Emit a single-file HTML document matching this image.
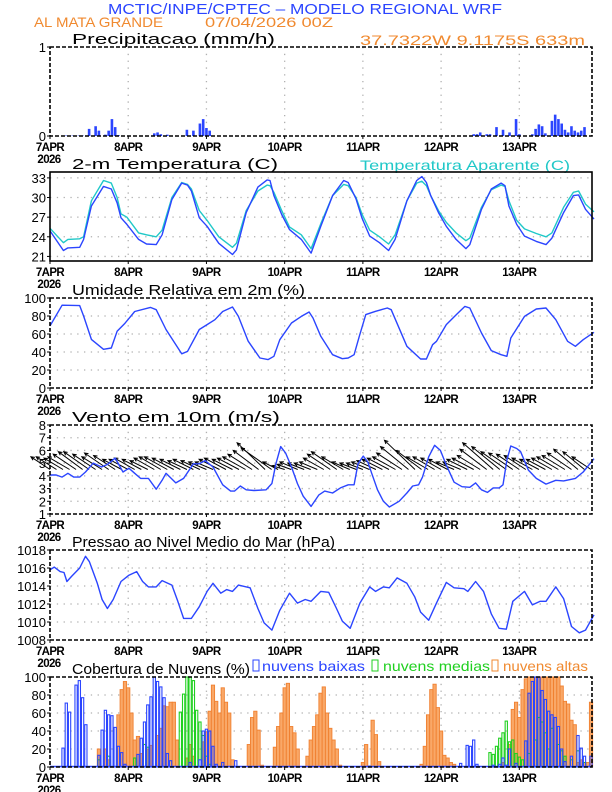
<!DOCTYPE html>
<html><head><meta charset="utf-8"><title>Meteograma WRF</title>
<style>
html,body{margin:0;padding:0;background:#fff;}
svg{display:block;font-family:"Liberation Sans",sans-serif;}
</style></head>
<body>
<svg id="chart" width="612" height="792" viewBox="0 0 612 792" xmlns="http://www.w3.org/2000/svg">
<text x="108" y="14" font-size="15" fill="#2b45ff" textLength="394" lengthAdjust="spacingAndGlyphs">MCTIC/INPE/CPTEC – MODELO REGIONAL WRF</text>
<text x="34" y="27" font-size="14" fill="#f08a30" textLength="129" lengthAdjust="spacingAndGlyphs">AL MATA GRANDE</text>
<text x="205" y="27" font-size="14" fill="#f08a30" textLength="128" lengthAdjust="spacingAndGlyphs">07/04/2026 00Z</text>
<text x="360" y="45" font-size="14" fill="#f08a30" textLength="225" lengthAdjust="spacingAndGlyphs">37.7322W 9.1175S 633m</text>
<text x="360" y="170" font-size="14" fill="#20c8c8" textLength="210" lengthAdjust="spacingAndGlyphs">Temperatura Aparente (C)</text>
<g>
<rect x="253" y="660" width="6" height="11" fill="none" stroke="#2b45ff"/>
<text x="262" y="671" font-size="14" fill="#2b45ff" textLength="103" lengthAdjust="spacingAndGlyphs">nuvens baixas</text>
<rect x="372" y="660" width="6" height="11" fill="none" stroke="#20d020"/>
<text x="383" y="671" font-size="14" fill="#20d020" textLength="107" lengthAdjust="spacingAndGlyphs">nuvens medias</text>
<rect x="492" y="660" width="6" height="11" fill="none" stroke="#f08a30"/>
<text x="503" y="671" font-size="14" fill="#f08a30" textLength="85" lengthAdjust="spacingAndGlyphs">nuvens altas</text>
</g>
</svg>
<script>
// ---------- data ----------
const dayLabels = ['7APR','8APR','9APR','10APR','11APR','12APR','13APR'];
const precipHours = [5,6,7,8,9,10,12,14,15,17,18,19,20,21,32,33,34,36,42,44,46,47,48,49,130,131,132,134,135,137,139,141,143,144,148,149,150,151,152,154,155,156,157,158,159,160,161,162,163,164];
const precipValues = [0.005,0.005,0.005,0.005,0.005,0.005,0.08,0.11,0.06,0.015,0.06,0.19,0.1,0.01,0.03,0.04,0.02,0.015,0.07,0.06,0.14,0.19,0.09,0.06,0.02,0.02,0.04,0.02,0.02,0.1,0.07,0.04,0.19,0.02,0.02,0.08,0.13,0.11,0.03,0.17,0.24,0.19,0.14,0.07,0.04,0.11,0.06,0.04,0.06,0.1];
const tempHours = [0,4.1,5.5,9.1,10.3,12.7,16.4,18.8,20.6,21.8,23.6,27.2,29.6,32.6,34.4,37.4,40.4,42.2,43.4,45.8,48.2,51.8,56.0,57.2,60.2,63.8,66.6,67.5,68.7,71.1,73.5,77.1,80.1,83.1,86.7,90.1,91.5,93.9,95.7,98.1,101.1,103.9,105.9,109.5,112.5,114.1,115.5,116.8,119.2,121.6,124.6,127.6,128.8,132.4,135.4,138.4,139.6,140.8,143.2,145.6,149.2,152.2,154.0,157.6,160.6,162.2,164.3,166.9];
const tempValues = [24.9,21.9,22.3,22.4,23.6,28.7,31.7,31.3,29.2,26.9,25.9,23.6,22.9,22.8,24.3,29.7,32.2,31.9,31.0,26.9,25.6,23.0,21.3,22.0,27.7,31.6,32.7,32.6,30.3,27.4,25.1,23.6,21.5,25.6,30.3,32.6,32.3,29.8,26.9,24.1,23.1,21.9,23.6,29.5,32.6,33.2,32.3,30.3,27.7,25.6,23.6,22.2,22.8,28.2,31.3,32.2,31.8,28.7,25.9,24.1,23.3,22.8,23.8,27.7,30.3,30.4,28.2,26.7];
const apparentValues = [25.3,23.1,23.6,23.7,24.0,29.5,32.6,32.2,30.0,27.5,27.0,24.6,24.3,24.0,25.0,30.0,32.3,32.0,31.3,28.0,26.5,24.0,22.4,23.0,28.0,31.0,31.9,31.8,30.8,28.0,25.5,24.3,22.2,26.0,30.3,32.0,31.8,30.0,27.5,25.0,24.0,22.9,24.3,29.5,32.2,32.5,31.8,30.3,28.0,26.2,24.6,23.4,23.8,28.5,31.2,31.9,31.7,29.5,26.5,25.2,24.5,24.0,24.6,28.5,30.8,31.0,29.0,27.8];
const rhHours = [0,3.7,9.1,10.3,12.7,16.4,18.8,20.6,23,26,30.8,32.6,35.6,40.4,42.2,45.8,48.2,50.6,53,56,57.8,60.8,64.4,66.9,68.7,70.5,74.1,77.1,79.5,80.7,83.1,86.7,89.7,91.5,93.3,94.9,96.9,99.9,103.5,104.7,109.5,113.7,115.5,117.4,118.6,121.6,125.2,127.3,128.8,132.4,135.4,138.4,140.2,141.4,145.6,149.2,152.2,155.2,158.8,161.2,163.6,166.9];
const rhValues = [69,92,91.5,80,54,43,44.4,63,72,85,89.6,87,65,38,40.7,65,70.4,75.9,85,90,79.6,52,33.3,31.5,35.2,53.7,72.2,79.6,84.4,77.8,57.4,37,32.6,33.3,37,57.4,81.5,85.2,88.9,87,46.3,32.2,32.2,48.1,51.9,70.4,83.3,90.7,88.9,61.1,41.5,37,35.2,55.6,79.6,87.8,88.9,75.9,51.9,46.3,53.7,61.9];
const windHours = [0,1.9,3.7,5.5,7.3,9.1,10.9,13.3,15.8,17.6,20.0,21.2,22.4,24.2,26.0,27.8,30.2,32.6,34.4,35.6,38.6,41.0,44.0,45.8,47.6,50.0,53.0,55.4,56.6,58.4,60.2,62.6,66.3,68.1,69.3,70.8,72.3,74.1,75.9,77.7,80.1,82.5,84.3,86.7,89.1,91.5,93.3,94.5,96.1,97.5,98.7,100.5,102.3,104.1,107.1,109.5,111.3,113.1,114.3,116.2,118.0,119.8,121.6,124.0,126.4,128.8,130.6,132.4,134.2,136.0,137.8,139.0,140.2,141.4,143.2,144.4,146.8,149.2,152.2,155.2,157.6,161.2,163.6,166.9];
const windValues = [4.07,4.07,3.9,4.2,3.9,3.9,4.3,5.0,4.7,4.9,5.4,4.85,4.3,4.6,4.2,3.8,3.8,2.95,3.65,4.2,3.45,3.8,4.95,4.95,5.2,4.7,3.3,2.8,2.8,3.2,2.9,2.85,2.9,3.4,4.95,6.3,5.8,4.7,3.4,2.4,1.6,2.5,2.8,2.65,3.05,3.3,3.3,4.95,5.55,5.1,4.2,2.9,2.0,1.55,2.0,2.65,3.2,3.3,3.9,5.5,6.4,6.0,4.85,3.5,3.15,3.1,3.45,2.9,2.7,3.05,3.05,3.3,5.25,6.35,6.15,5.9,4.45,3.8,3.35,3.65,3.6,3.8,4.3,5.35];
const arrowU = [-1.5,-1.6,-1.5,-1.7,-1.8,-1.9,-2.0,-1.8,-1.6,-1.9,-1.7,-1.5,-1.5,-1.6,-1.5,-1.4,-1.6,-1.7,-1.8,-1.7,-1.6,-1.5,-1.6,-1.5,-1.4,-1.4,-1.6,-1.7,-1.6,-1.7,-1.8,-1.9,-2.0,-2.2,-2.4,-1.2,-1.0,-1.1,-1.4,-1.3,-1.3,-1.4,-1.6,-1.8,-2.0,-1.7,-1.4,-1.3,-1.3,-1.4,-1.5,-1.6,-1.7,-1.8,-2.0,-2.2,-2.4,-2.0,-1.7,-1.7,-1.6,-1.5,-1.4,-1.4,-1.6,-1.7,-1.8,-2.1,-2.4,-2.2,-2.0,-1.9,-1.8,-1.7,-1.6,-1.5,-1.5,-1.6,-1.7,-1.8,-1.9,-1.9,-1.7,-1.5];
const arrowV = [1.0,1.0,0.9,1.0,1.2,1.4,1.4,1.2,1.0,1.3,1.1,0.8,0.8,0.9,0.8,0.7,0.9,1.0,1.0,0.9,0.8,0.7,0.8,0.7,0.6,0.6,0.8,0.9,0.8,0.9,1.0,1.2,1.5,2.1,1.7,0.6,0.3,0.4,0.6,0.5,0.5,0.6,0.9,1.2,1.4,1.0,0.6,0.5,0.5,0.6,0.7,0.8,0.9,1.0,1.3,1.8,2.3,1.5,1.0,1.0,0.9,0.8,0.6,0.6,0.8,0.9,1.1,1.6,2.1,1.8,1.4,1.3,1.2,1.1,0.9,0.8,0.8,0.9,1.0,1.1,1.3,1.6,1.4,1.0];
const presHours = [0,1.3,3.1,4.3,5.2,6.7,9.1,10.9,12.1,14.5,16.0,17.6,19.4,21.8,24.2,26.6,28.4,30.2,32.6,34.4,37.4,39.2,41.0,43.4,45.8,48.2,50.0,52.4,54.2,56.0,57.8,61.4,63.8,65.7,68.1,70.5,73.5,75.9,78.3,80.1,83.1,85.5,87.9,89.7,92.1,95.1,98.1,99.9,102.3,104.1,106.5,109.5,111.9,113.7,116.2,118.6,121.6,124.0,127.0,128.2,130.6,133.0,135.4,137.8,140.0,142.0,145.6,148.0,150.4,152.2,155.2,157.6,160.0,162.4,164.3,166.9];
const presValues = [1015.8,1016.1,1015.6,1015.5,1014.5,1015.1,1016.0,1017.3,1016.7,1014.3,1012.5,1011.5,1012.5,1014.5,1015.2,1015.6,1014.5,1013.9,1013.9,1014.6,1014.1,1012.3,1010.4,1010.4,1011.7,1013.4,1014.3,1013.2,1013.6,1013.4,1014.1,1013.8,1011.5,1009.9,1009.1,1011.3,1013.2,1012.1,1012.5,1012.3,1013.4,1013.3,1011.5,1010.1,1009.3,1012.1,1013.9,1013.4,1013.9,1013.8,1014.9,1014.3,1012.8,1011.1,1010.2,1012.1,1014.4,1013.8,1013.7,1013.4,1014.5,1013.4,1010.9,1009.3,1009.2,1012.3,1013.4,1011.9,1012.3,1012.3,1013.9,1012.6,1009.5,1008.8,1009.1,1010.8];
const lowHours = [4,5,6,8,9,10,11,15,16,17,18,19,20,21,22,23,27,28,29,30,31,32,33,34,35,36,37,43,46,47,48,49,50,51,53,57,98,126,128,129,130,131,136,138,139,140,141,143,146,147,148,149,150,151,152,153,154,155,156,157,158,160,162,163,164,166];
const lowValues = [21,71,61,91,96,77,47,13,41,63,58,57,44,23,16,3,14,32,50,69,78,100,95,89,77,15,7,5,8,40,42,40,23,3,5,7,1,4,24,23,30,3,2,3,10,2,20,4,29,82,95,100,100,85,75,62,58,55,45,20,6,12,35,21,12,12];
const midHours = [15,18,26,29,30,40,41,42,43,44,45,46,47,48,49,135,136,137,138,139,140,141,142,143,144,145,147,149,150,151,152,153,154,156,157,158,160,162,164];
const midValues = [8,12,10,25,22,61,81,100,100,96,63,50,35,12,3,16,14,23,32,38,51,28,30,15,11,8,15,30,55,50,38,20,43,25,18,12,8,18,5];
const highHours = [15,17,18,21,22,23,24,25,26,27,28,30,31,33,34,35,36,37,38,39,42,43,44,47,48,49,50,51,52,53,54,55,56,61,62,63,64,65,69,70,71,72,73,74,75,76,79,80,81,82,83,84,85,86,87,88,89,96,97,99,100,101,114,115,116,117,118,119,120,121,122,123,124,139,141,142,143,144,145,146,147,148,149,150,151,152,153,154,155,156,157,158,159,160,161,162,163,164,165,166];
const highValues = [20,20,8,58,86,95,88,60,30,34,15,20,24,35,43,68,67,72,72,30,10,25,12,28,39,62,91,73,60,88,72,60,8,25,55,62,41,2,22,45,60,88,93,45,38,20,12,30,45,58,82,89,60,43,30,20,2,5,25,52,36,6,3,23,58,86,92,66,40,13,10,5,3,5,25,64,72,55,86,98,100,100,100,100,100,100,100,100,100,100,90,73,70,52,47,5,8,5,5,72];

// ---------- layout ----------
const svg = document.getElementById('chart');
const NS = 'http://www.w3.org/2000/svg';
const X0 = 50, X1 = 592, HMAX = 166.3;
function xs(h){ return X0 + h * (X1 - X0) / HMAX; }
function ysFor(p){ return v => p.bot - (v - p.min) / (p.max - p.min) * (p.bot - p.top); }
function mk(tag, attrs, name, parent){
  const el = document.createElementNS(NS, tag);
  for (const k in attrs) el.setAttribute(k, attrs[k]);
  
  
  (parent || svg).appendChild(el);
  return el;
}
function panel(p, key, title, titleW, ticks){
  const g = mk('g', {}, key + '-panel');
  const y = ysFor(p);
  const grid = mk('g', {stroke:'#b0b0b0','stroke-width':1.3,'stroke-dasharray':'1.3 5.5'}, key + '-gridlines', g);
  for (let d = 1; d < 7; d++) mk('line', {x1:xs(d*24), x2:xs(d*24), y1:p.top, y2:p.bot}, key + '-vgrid', grid);
  ticks.forEach(t => { if (y(t) > p.top + 2 && y(t) < p.bot - 2) mk('line', {x1:X0, x2:X1, y1:y(t), y2:y(t)}, key + '-hgrid', grid); });
  ticks.forEach(t => {
    const tx = mk('text', {x:X0-4, y:y(t)+5, 'text-anchor':'end','font-size':13,fill:'#000'}, key + '-y-tick-label', g);
    tx.textContent = t;
    mk('line', {x1:X0-3, x2:X0, y1:y(t), y2:y(t), stroke:'#000'}, key + '-y-tick', g);
  });
  dayLabels.forEach((lab, i) => {
    const tx = mk('text', {x:xs(i*24), y:p.bot+15, 'text-anchor':'middle','font-size':11.5,'font-weight':'bold','letter-spacing':'-0.6',fill:'#000'}, key + '-x-tick-label', g);
    tx.textContent = lab;
    mk('line', {x1:xs(i*24), x2:xs(i*24), y1:p.bot, y2:p.bot+3, stroke:'#000'}, key + '-x-tick', g);
  });
  const yr = mk('text', {x:xs(0)-1, y:p.bot+27, 'text-anchor':'middle','font-size':11.5,'font-weight':'bold','letter-spacing':'-0.6',fill:'#000'}, key + '-year-label', g);
  yr.textContent = '2026';
  const tt = mk('text', {x:72, y:p.top-3, 'font-size':14.5, fill:'#000', textLength:titleW, lengthAdjust:'spacingAndGlyphs'}, key + '-title', g);
  tt.textContent = title;
  return {g, y};
}
function frame(p, key, solid){
  mk('rect', {x:X0, y:p.top, width:X1-X0, height:p.bot-p.top, fill:'none', stroke:'#000', 'stroke-width':1.6, 'stroke-dasharray': solid ? 'none' : '4 2'}, key + '-frame');
}
function line(hours, vals, y, color, name, parent){
  const d = hours.map((h, i) => (i ? 'L' : 'M') + xs(h).toFixed(1) + ' ' + y(vals[i]).toFixed(1)).join(' ');
  mk('path', {d, fill:'none', stroke:color, 'stroke-width':1.4, 'stroke-linejoin':'round'}, name, parent);
}

// Precip
const PP = {top:47, bot:136, min:0, max:1};
const pp = panel(PP, 'precip', 'Precipitacao (mm/h)', 203, [0,1]);
precipHours.forEach((h, i) => {
  const y0 = pp.y(precipValues[i]);
  mk('rect', {x:xs(h)-1.3, y:y0, width:2.6, height:PP.bot-y0, fill:'#2b45ff'}, 'precip-bar', pp.g);
});
frame(PP, 'precip');

// Temperature
const PT = {top:172, bot:261, min:20.3, max:33.9};
const pt = panel(PT, 'temp', '2-m Temperatura (C)', 206, [21,24,27,30,33]);
line(tempHours, apparentValues, pt.y, '#20c8c8', 'apparent-temp-line', pt.g);
line(tempHours, tempValues, pt.y, '#2b45ff', 'temp-line', pt.g);
frame(PT, 'temp', true);

// RH
const PR = {top:298, bot:388, min:0, max:100};
const pr = panel(PR, 'rh', 'Umidade Relativa em 2m (%)', 233, [0,20,40,60,80,100]);
line(rhHours, rhValues, pr.y, '#2b45ff', 'rh-line', pr.g);
frame(PR, 'rh');

// Wind
const PW = {top:425, bot:514, min:1, max:8};
const pw = panel(PW, 'wind', 'Vento em 10m (m/s)', 208, [1,2,3,4,5,6,7,8]);
const unit = (PW.bot - PW.top) / 7;
const arrows = mk('g', {stroke:'#000', 'stroke-width':1, fill:'none'}, 'wind-arrows', pw.g);
arrowU.forEach((u, i) => {
  const h = i * 2;
  const bx = xs(h), by = pw.y(4.5);
  const tx = bx + u * unit, ty = by - arrowV[i] * unit;
  const ang = Math.atan2(ty - by, tx - bx);
  const hl = 4;
  const a1 = ang + 2.7, a2 = ang - 2.7;
  mk('path', {d:`M${bx.toFixed(1)} ${by.toFixed(1)} L${tx.toFixed(1)} ${ty.toFixed(1)} M${(tx+hl*Math.cos(a1)).toFixed(1)} ${(ty+hl*Math.sin(a1)).toFixed(1)} L${tx.toFixed(1)} ${ty.toFixed(1)} L${(tx+hl*Math.cos(a2)).toFixed(1)} ${(ty+hl*Math.sin(a2)).toFixed(1)}`}, 'wind-arrow', arrows);
});
line(windHours, windValues, pw.y, '#2b45ff', 'wind-speed-line', pw.g);
frame(PW, 'wind');

// Pressure
const PS = {top:550, bot:640, min:1008, max:1018};
const ps = panel(PS, 'pressure', 'Pressao ao Nivel Medio do Mar (hPa)', 263, [1008,1010,1012,1014,1016,1018]);
line(presHours, presValues, ps.y, '#2b45ff', 'pressure-line', ps.g);
frame(PS, 'pressure');

// Clouds
const PC = {top:677, bot:767, min:0, max:100};
const pc = panel(PC, 'cloud', 'Cobertura de Nuvens (%)', 178, [0,20,40,60,80,100]);
const bw = (X1 - X0) / HMAX;
highHours.forEach((h, i) => {
  const y0 = pc.y(highValues[i]);
  mk('rect', {x:xs(h)-bw/2, y:y0, width:bw, height:PC.bot-y0, fill:'#f9a868', stroke:'#f08030', 'stroke-width':0.9}, 'cloud-high-bar', pc.g);
});
midHours.forEach((h, i) => {
  const y0 = pc.y(midValues[i]);
  mk('rect', {x:xs(h)-bw/2+0.5, y:y0, width:bw-1, height:PC.bot-y0, fill:'none', stroke:'#20d020', 'stroke-width':1.1}, 'cloud-mid-bar', pc.g);
});
lowHours.forEach((h, i) => {
  const y0 = pc.y(lowValues[i]);
  mk('rect', {x:xs(h)-bw/2+0.5, y:y0, width:bw-1, height:PC.bot-y0, fill:'none', stroke:'#2b45ff', 'stroke-width':1.1}, 'cloud-low-bar', pc.g);
});
mk('line', {x1:X0, x2:X1, y1:PC.bot-0.5, y2:PC.bot-0.5, stroke:'#2b45ff', 'stroke-width':1.4}, 'cloud-baseline', pc.g);
frame(PC, 'cloud');
</script>
</body></html>
